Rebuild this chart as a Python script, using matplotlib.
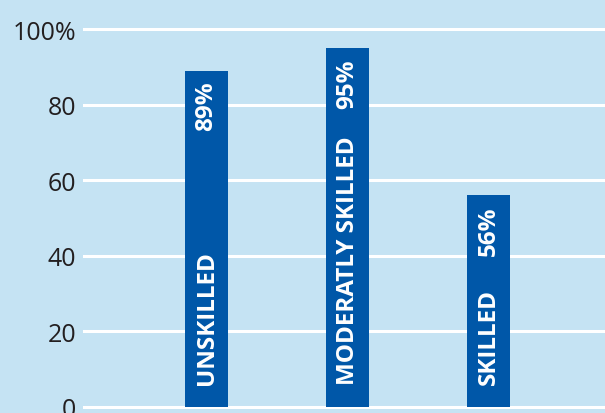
import matplotlib.pyplot as plt

# data
categories = ['UNSKILLED', 'MODERATLY SKILLED', 'SKILLED']
values = [89, 95, 56]
value_labels = ['89%', '95%', '56%']
yticks = [0, 20, 40, 60, 80, 100]
ytick_labels = ['0', '20', '40', '60', '80', '100%']

bg = '#c5e3f3'
bar_col = '#0057a8'

fig = plt.figure(figsize=(6.05, 4.14), dpi=100)
fig.patch.set_facecolor(bg)
ax = fig.add_axes([83/605, 0, 1 - 83/605, 1])
ax.set_facecolor(bg)

x = list(range(len(categories)))
ax.bar(x, values, width=0.305, color=bar_col, zorder=3)

for xi, cat, v, lab in zip(x, categories, values, value_labels):
    ax.text(xi, 6, cat, rotation=90, ha='center', va='bottom', color='white',
            fontsize=17.5, fontweight='bold', family='Open Sans', zorder=4)
    ax.text(xi, v - 2.7, lab, rotation=90, ha='center', va='top', color='white',
            fontsize=17.5, fontweight='bold', family='Open Sans', zorder=4)

ax.set_xlim(-0.876, 2.826)
ax.set_ylim(-1.59, 107.94)
ax.set_yticks(yticks)
ax.set_yticklabels(ytick_labels, family='Open Sans', fontsize=18, color='#231f20')
ax.set_xticks([])
ax.tick_params(axis='y', length=0, pad=5)
ax.yaxis.grid(True, color='white', linewidth=2.2, zorder=1)
ax.set_axisbelow(True)
for s in ax.spines.values():
    s.set_visible(False)

fig.savefig('out.png', dpi=100, facecolor=bg)
